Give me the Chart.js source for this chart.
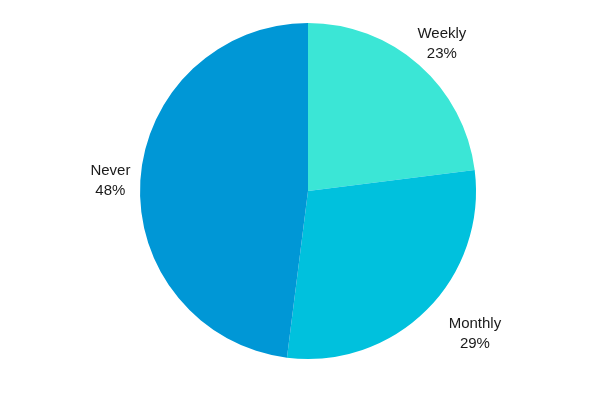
<!DOCTYPE html>
<html>
<head>
<meta charset="utf-8">
<script src="https://cdn.jsdelivr.net/npm/chart.js@4"></script>
<style>html,body{margin:0;padding:0;background:#fff;}canvas{display:block;}</style>
</head>
<body>
<canvas id="c" width="600" height="400"></canvas>
<script>
const categories = ["Weekly", "Monthly", "Never"];
const values = [23, 29, 48];
const colors = ["#3be6d6", "#00c1dd", "#0097d6"];

const labelPlugin = {
  id: 'outLabels',
  afterDatasetsDraw(chart) {
    const ctx = chart.ctx;
    const meta = chart.getDatasetMeta(0);
    const total = values.reduce((a, b) => a + b, 0);
    ctx.save();
    ctx.font = '15px "Liberation Sans", Arial, sans-serif';
    ctx.fillStyle = '#1a1a1a';
    ctx.textAlign = 'center';
    ctx.textBaseline = 'middle';
    meta.data.forEach((arc, i) => {
      const p = arc.getProps(['startAngle', 'endAngle', 'outerRadius', 'x', 'y'], true);
      const mid = (p.startAngle + p.endAngle) / 2;
      const c = Math.cos(mid), s = Math.sin(mid);
      const R = p.outerRadius + 17;
      const l1 = categories[i];
      const l2 = Math.round(values[i] / total * 100) + '%';
      const w = Math.max(ctx.measureText(l1).width, ctx.measureText(l2).width);
      const h = 40;
      const cx = p.x + c * (R + w / 2 - 7 + 45 * Math.max(s, 0));
      const cy = p.y + 2 + s * (R - 6 + h / 2);
      ctx.fillText(l1, cx, cy - 10);
      ctx.fillText(l2, cx, cy + 10);
    });
    ctx.restore();
  }
};

new Chart(document.getElementById('c'), {
  type: 'pie',
  data: {
    labels: categories,
    datasets: [{ data: values, backgroundColor: colors, borderWidth: 0 }]
  },
  options: {
    responsive: false,
    animation: false,
    layout: { padding: { left: 140, right: 124, top: 23, bottom: 41 } },
    plugins: { legend: { display: false }, tooltip: { enabled: false } }
  },
  plugins: [labelPlugin]
});
</script>
</body>
</html>
